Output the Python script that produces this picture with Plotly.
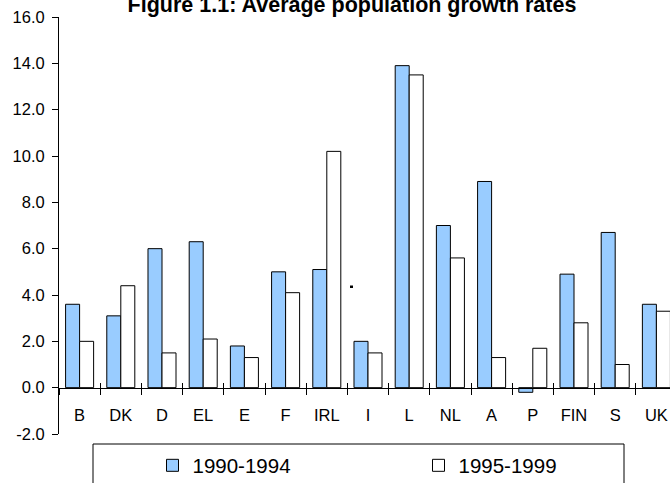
import plotly.graph_objects as go

countries = ["B", "DK", "D", "EL", "E", "F", "IRL", "I", "L", "NL", "A", "P", "FIN", "S", "UK"]
growth_1990_1994 = [3.6, 3.1, 6.0, 6.3, 1.8, 5.0, 5.1, 2.0, 13.9, 7.0, 8.9, -0.2, 4.9, 6.7, 3.6]
growth_1995_1999 = [2.0, 4.4, 1.5, 2.1, 1.3, 4.1, 10.2, 1.5, 13.5, 5.6, 1.3, 1.7, 2.8, 1.0, 3.3]
y_ticks = [-2, 0, 2, 4, 6, 8, 10, 12, 14, 16]
y_tick_labels = ["-2.0", "0.0", "2.0", "4.0", "6.0", "8.0", "10.0", "12.0", "14.0", "16.0"]

FONT = "Liberation Sans, Arial, sans-serif"
W, H = 670, 483
L, R, T, B = 59, 0, 17, 49
PW, PH = W - L - R, H - T - B

def px_x(p):
    return (p - L) / PW

def px_y(p):
    return (H - B - p) / PH

fig = go.Figure()
fig.add_trace(go.Bar(
    x=countries, y=growth_1990_1994, name="1990-1994", legend="legend",
    marker=dict(color="#99CCFF", line=dict(color="black", width=1)),
))
fig.add_trace(go.Bar(
    x=countries, y=growth_1995_1999, name="1995-1999", legend="legend2",
    marker=dict(color="white", line=dict(color="black", width=1)),
))
# helper trace so the upper half of the crossing tick marks has an axis
fig.add_trace(go.Scatter(x=[None], y=[None], xaxis="x2", yaxis="y",
                         showlegend=False, hoverinfo="skip", mode="lines"))

n = len(countries)
xr = [-0.5, -0.5 + PW / 41.2]
zero_pos = (0 - y_ticks[0]) / (y_ticks[-1] - y_ticks[0])

legend_common = dict(orientation="h", xanchor="left", yanchor="top",
                     font=dict(family=FONT, size=20.5, color="black"),
                     bgcolor="rgba(0,0,0,0)", borderwidth=0)

fig.update_layout(
    width=W, height=H,
    margin=dict(l=L, r=R, t=T, b=B, pad=0, autoexpand=False),
    paper_bgcolor="white", plot_bgcolor="white",
    font=dict(family=FONT, color="black"),
    barmode="group", bargap=0.32, bargroupgap=0,
    title=dict(text="<b>Figure 1.1: Average population growth rates</b>",
               font=dict(family=FONT, size=21.5, color="black"),
               xref="container", x=352 / W, xanchor="center",
               yref="container", y=1 - 4 / H, yanchor="middle"),
    xaxis=dict(type="category", range=xr, anchor="free", position=zero_pos,
               automargin=False,
               showline=True, linecolor="black", linewidth=1,
               ticks="outside", tickson="boundaries", ticklen=6, tickcolor="black",
               tickwidth=1, showgrid=False, zeroline=False,
               tickfont=dict(family=FONT, size=16.5, color="black"),
               ticklabelstandoff=13),
    xaxis2=dict(overlaying="x", anchor="free", position=zero_pos, range=xr,
                automargin=False,
                tickvals=[i + 0.5 for i in range(n - 1)], ticks="inside", ticklen=5,
                tickcolor="black", tickwidth=1, showticklabels=False,
                showline=False, showgrid=False, zeroline=False),
    yaxis=dict(range=[y_ticks[0], y_ticks[-1]], tickvals=y_ticks, ticktext=y_tick_labels,
               automargin=False,
               showline=True, linecolor="black", linewidth=1,
               ticks="outside", ticklen=6, tickcolor="black", tickwidth=1,
               showgrid=False, zeroline=False,
               tickfont=dict(family=FONT, size=16.5, color="black"),
               ticklabelstandoff=4),
    legend=dict(x=px_x(152.5), y=px_y(445.5), **legend_common),
    legend2=dict(x=px_x(418.5), y=px_y(445.5), **legend_common),
    showlegend=True,
    shapes=[
        dict(type="rect", xref="paper", yref="paper",
             x0=px_x(93), x1=px_x(624), y0=px_y(444), y1=px_y(500),
             line=dict(color="black", width=1), fillcolor="rgba(0,0,0,0)", layer="below"),
        dict(type="rect", xref="paper", yref="paper",
             x0=px_x(350), x1=px_x(353), y0=px_y(288), y1=px_y(285.5),
             line=dict(width=0), fillcolor="black"),
    ],
)

fig.write_html("out.html",
               config={"displayModeBar": False},
               post_script="document.body.style.margin='0';document.body.style.overflow='hidden';")
